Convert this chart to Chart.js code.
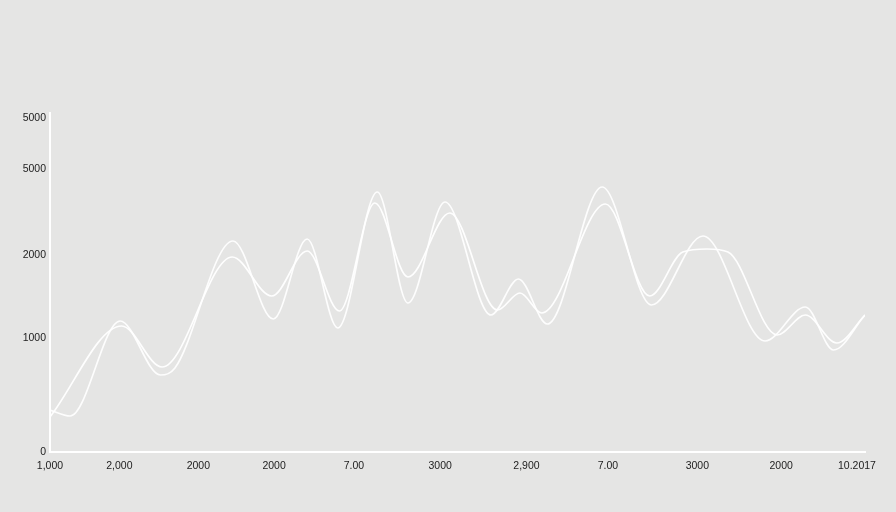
<!DOCTYPE html>
<html>
<head>
<meta charset="utf-8">
<script src="https://cdn.jsdelivr.net/npm/chart.js@4"></script>
<style>
  html, body { margin: 0; padding: 0; background: #e5e5e4; }
  #wrap { width: 896px; height: 512px; position: relative; }
</style>
</head>
<body>
<div id="wrap"><canvas id="lineChart"></canvas></div>
<script>
// x tick labels (as printed under the axis) and where they sit on the axis
const xLabels = ["1,000", "2,000", "2000", "2000", "7.00", "3000", "2,900", "7.00", "3000", "2000", "10.2017"];
const xTickValues = [0, 0.86, 1.84, 2.78, 3.77, 4.84, 5.91, 6.92, 8.03, 9.07, 10.01];

// y ticks: the axis spacing is uneven, so keep positions and labels side by side
const yTickValues = [0, 114, 197, 283, 334];
const yTickLabels = ["0", "1000", "2000", "5000", "5000"];

// series 1 (the sharper line)
const peakX = [0, 0.25, 0.87, 1.37, 1.55, 2.27, 2.77, 3.19, 3.57, 4.06, 4.44, 4.90, 5.47, 5.81, 6.17, 6.85, 7.46, 8.10, 8.87, 9.37, 9.72, 10.11];
const peakY = [42, 36, 131, 77, 84, 211, 133, 213, 124, 260, 149, 250, 137, 173, 128, 265, 147, 216, 111, 145, 102, 137];

// series 2 (the smoother line)
const smoothX = [0, 0.89, 1.39, 2.26, 2.75, 3.19, 3.59, 4.03, 4.44, 4.96, 5.55, 5.83, 6.10, 6.89, 7.44, 7.85, 8.15, 8.41, 9.02, 9.37, 9.76, 10.11];
const smoothY = [35, 126, 85, 195, 156, 201, 141, 249, 175, 239, 142, 159, 139, 248, 156, 200, 203, 200, 117, 137, 109, 137];

const toPoints = (xs, ys) => xs.map((x, i) => ({ x: x, y: ys[i] }));

const ctx = document.getElementById("lineChart").getContext("2d");
new Chart(ctx, {
  type: "line",
  data: {
    datasets: [
      {
        data: toPoints(peakX, peakY),
        borderColor: "rgba(255, 255, 255, 0.9)",
        borderWidth: 1.7,
        pointRadius: 0,
        fill: false,
        cubicInterpolationMode: "monotone",
      },
      {
        data: toPoints(smoothX, smoothY),
        borderColor: "rgba(255, 255, 255, 0.95)",
        borderWidth: 1.7,
        pointRadius: 0,
        fill: false,
        cubicInterpolationMode: "monotone",
      },
    ],
  },
  options: {
    responsive: true,
    maintainAspectRatio: false,
    animation: false,
    layout: { padding: { top: 113, right: 31, bottom: 0, left: 0 } },
    plugins: {
      legend: { display: false },
      tooltip: { enabled: false },
    },
    scales: {
      x: {
        type: "linear",
        min: 0,
        max: 10.11,
        afterBuildTicks: axis => { axis.ticks = xTickValues.map(v => ({ value: v })); },
        afterFit: axis => { axis.height = 60; },
        grid: { display: false, drawTicks: false },
        border: { color: "#ffffff", width: 2 },
        ticks: {
          autoSkip: false,
          maxRotation: 0,
          padding: 8,
          color: "#222222",
          font: { family: "Liberation Sans", size: 10.5 },
          callback: (v, i) => xLabels[i],
        },
      },
      y: {
        min: 0,
        max: 339,
        afterBuildTicks: axis => { axis.ticks = yTickValues.map(v => ({ value: v })); },
        afterFit: axis => { axis.width = 50; },
        grid: { display: false, drawTicks: false },
        border: { color: "#ffffff", width: 2 },
        ticks: {
          padding: 4,
          color: "#222222",
          font: { family: "Liberation Sans", size: 10.5 },
          callback: (v, i) => yTickLabels[i],
        },
      },
    },
  },
});
</script>
</body>
</html>
